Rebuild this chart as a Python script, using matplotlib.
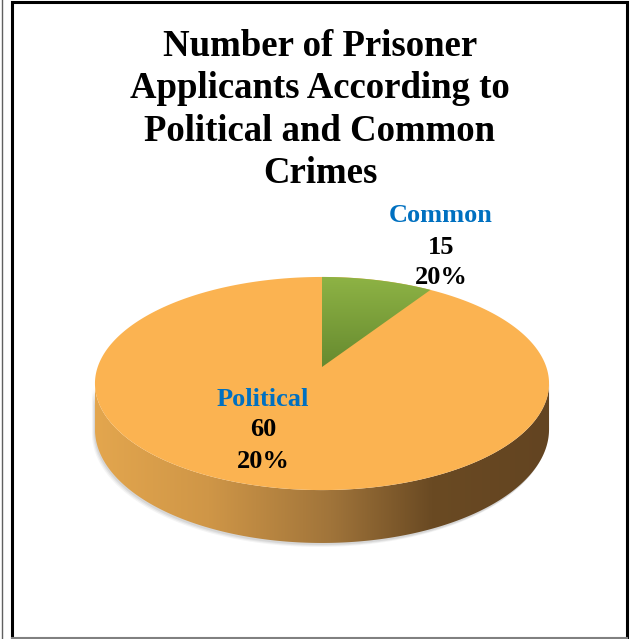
import numpy as np
import matplotlib.pyplot as plt
from matplotlib.patches import Polygon
from matplotlib.colors import LinearSegmentedColormap

# 数据
categories = ["Common", "Political"]
counts = [15, 60]
pct_labels = ["20%", "20%"]          # 原图中两个标签都写着 20%
slice_share = [9.2, 90.8]            # 从图上量出的扇区大小

title = "Number of Prisoner\nApplicants According to\nPolitical and Common\nCrimes"

# 画布与透视参数（像素坐标）
W, H = 630, 639
cx, cy = 322, 367
A, B, k, D = 224.3, 104.0, 0.155, 44.7

top_orange = "#FBB351"
blue = "#0070C0"


def proj(t, drop=0.0):
    """t: 从正上方顺时针的角度（弧度）"""
    X = np.sin(t)
    Y = -np.cos(t)
    s = 1.0 / (1.0 - k * Y)
    return cx + A * X * s, cy + (B * Y + drop) * s


fig = plt.figure(figsize=(W / 100, H / 100), dpi=100)
ax = fig.add_axes([0, 0, 1, 1])
ax.set_xlim(0, W)
ax.set_ylim(H, 0)
ax.axis("off")

# 侧面（前半部分）
t_lo = np.arccos(-k)
t_hi = 2 * np.pi - t_lo
ts = np.linspace(t_lo, t_hi, 200)
tx, ty = proj(ts)
bx, by = proj(ts[::-1], D)
side_xy = np.column_stack([np.r_[tx, bx], np.r_[ty, by]])

# 阴影
for dx, dy, al in [(-3, 4, 0.10), (-2, 3, 0.15), (-1, 2, 0.2)]:
    ax.add_patch(Polygon(side_xy + [dx, dy], closed=True, fc="#9a9a9a",
                         ec="none", alpha=al, zorder=1))

side = Polygon(side_xy, closed=True, fc="none", ec="none", zorder=2)
ax.add_patch(side)
side_cmap = LinearSegmentedColormap.from_list(
    "side", [(0.0, "#E3A64E"), (0.25, "#CF9647"), (0.52, "#A0743A"),
             (0.74, "#6A4A23"), (1.0, "#634421")])
grad = np.linspace(0, 1, 256).reshape(1, -1)
im = ax.imshow(grad, cmap=side_cmap, aspect="auto",
               extent=(side_xy[:, 0].min(), side_xy[:, 0].max(),
                       side_xy[:, 1].max(), side_xy[:, 1].min()),
               zorder=2, interpolation="bilinear")
im.set_clip_path(side)

# 顶面
edges = np.r_[0, np.cumsum(slice_share)] / sum(slice_share) * 2 * np.pi
full_t = np.linspace(0, 2 * np.pi, 400)
fx, fy = proj(full_t)
ax.add_patch(Polygon(np.column_stack([fx, fy]), closed=True, fc=top_orange,
                     ec="none", zorder=3))

# Common 扇区（绿色渐变）
wt = np.linspace(edges[0], edges[1], 60)
wx, wy = proj(wt)
wedge_xy = np.column_stack([np.r_[cx, wx], np.r_[cy, wy]])
wedge = Polygon(wedge_xy, closed=True, fc="none", ec="none", zorder=4)
ax.add_patch(wedge)
green_cmap = LinearSegmentedColormap.from_list("green", ["#8EB345", "#668A2F"])
gim = ax.imshow(np.linspace(0, 1, 256).reshape(-1, 1), cmap=green_cmap,
                aspect="auto",
                extent=(wedge_xy[:, 0].min(), wedge_xy[:, 0].max(),
                        wedge_xy[:, 1].max(), wedge_xy[:, 1].min()),
                zorder=4, interpolation="bilinear")
gim.set_clip_path(wedge)

# 标题
ax.text(320, 110, title, ha="center", va="center", fontsize=26.5,
        fontweight="bold", family="Liberation Serif", linespacing=1.28,
        zorder=6)

# 数据标签
label_pos = [(441, 216), (263, 399)]
for (lx, ly), name, n, p in zip(label_pos, categories, counts, pct_labels):
    kw = dict(ha="center", va="center", fontsize=19, fontweight="bold",
              family="Liberation Serif", zorder=6)
    ax.text(lx, ly, name, color=blue, **kw)
    ax.text(lx, ly + 31, str(n), color="black", **kw)
    ax.text(lx, ly + 62, p, color="black", **kw)

# 外框
ax.plot([11.5, 11.5, 626.5, 626.5], [H, 1.5, 1.5, H], color="black",
        lw=2.2, solid_joinstyle="miter", zorder=7)
ax.plot([11.5, 626.5], [637.5, 637.5], color="#808080", lw=1.5, zorder=7)
ax.plot([1.5, 1.5], [0, H], color="#606060", lw=1.0, zorder=7)

fig.savefig("out.png", dpi=100)
